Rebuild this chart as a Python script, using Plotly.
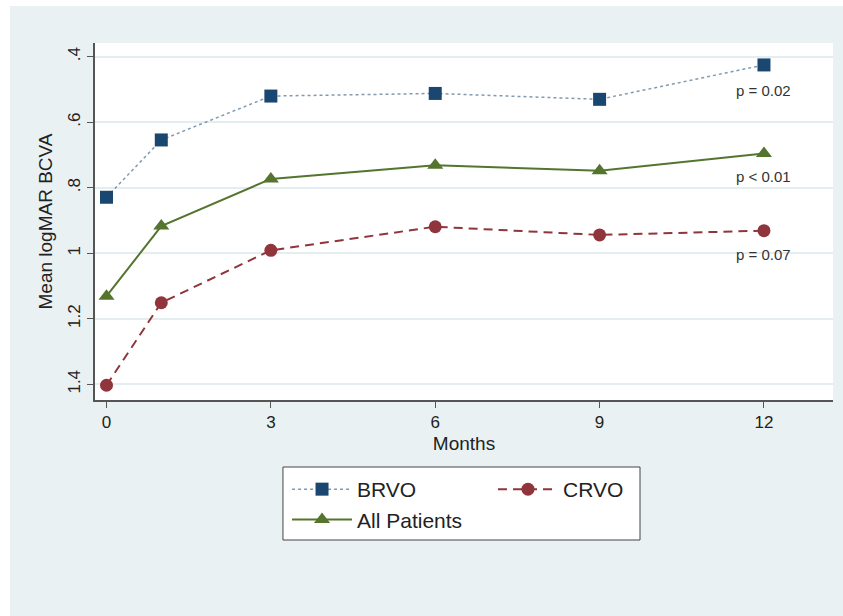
import plotly.graph_objects as go

# Follow-up visits (months) and mean logMAR BCVA per group
months = [0, 1, 3, 6, 9, 12]
brvo = [0.829, 0.654, 0.520, 0.512, 0.530, 0.425]
all_patients = [1.131, 0.917, 0.773, 0.731, 0.748, 0.695]
crvo = [1.403, 1.151, 0.991, 0.919, 0.944, 0.931]

x_ticks = [0, 3, 6, 9, 12]
y_ticks = [0.4, 0.6, 0.8, 1.0, 1.2, 1.4]
y_tick_text = [".4", ".6", ".8", "1", "1.2", "1.4"]

p_labels = ["p = 0.02", "p < 0.01", "p = 0.07"]
p_label_y = [0.502, 0.766, 1.005]

NAVY = "#1a476f"
MAROON = "#90353b"
GREEN = "#55752f"
BG = "#e9f1f3"
FONT = "Liberation Sans, Arial, sans-serif"

fig = go.Figure()

fig.add_trace(go.Scatter(
    x=months, y=brvo, name="BRVO", mode="lines+markers", legend="legend",
    line=dict(color="rgba(26,71,111,0.55)", width=1.5, dash="dot"),
    marker=dict(symbol="square", size=13, color=NAVY),
))
fig.add_trace(go.Scatter(
    x=months, y=crvo, name="CRVO", mode="lines+markers", legend="legend2",
    line=dict(color=MAROON, width=2, dash="9px,6px"),
    marker=dict(symbol="circle", size=13, color=MAROON),
))
fig.add_trace(go.Scatter(
    x=months, y=all_patients, name="All Patients", mode="lines+markers", legend="legend",
    line=dict(color=GREEN, width=2),
    marker=dict(symbol="triangle-up", size=14, color=GREEN),
))

for txt, yv in zip(p_labels, p_label_y):
    fig.add_annotation(
        x=12, y=yv, text=txt, showarrow=False,
        font=dict(family=FONT, size=15, color="#333333"),
        xanchor="center", yanchor="middle",
    )

# white strips along the top and left edges of the page
fig.add_shape(type="rect", xref="paper", yref="paper",
              x0=-0.2, x1=-0.1152, y0=-0.7, y1=1.2,
              fillcolor="white", line_width=0, layer="below")
fig.add_shape(type="rect", xref="paper", yref="paper",
              x0=-0.2, x1=1.1, y0=1.1036, y1=1.2,
              fillcolor="white", line_width=0, layer="below")
# frame holding both legend columns
fig.add_shape(type="rect", xref="paper", yref="paper",
              x0=0.2547, x1=0.7385, y0=-0.3922, y1=-0.1877,
              fillcolor="white", line=dict(color="#444444", width=1), layer="above")

legend_common = dict(
    orientation="v", xanchor="left", yanchor="top",
    bgcolor="rgba(0,0,0,0)", borderwidth=0,
    font=dict(family=FONT, size=21, color="#222222"),
    itemwidth=60, tracegroupgap=0,
)

fig.update_layout(
    width=843, height=616,
    margin=dict(l=95, r=10, t=43, b=216),
    paper_bgcolor=BG, plot_bgcolor="white",
    font=dict(family=FONT, color="#222222"),
    showlegend=True,
    legend=dict(x=0.2602, y=-0.1933, **legend_common),
    legend2=dict(x=0.5393, y=-0.1933, **legend_common),
)

fig.update_xaxes(
    range=[-0.21, 13.26], tickvals=x_ticks,
    ticks="outside", ticklen=6, tickcolor="#555555",
    showline=True, linecolor="#555555", linewidth=1.5,
    showgrid=False, zeroline=False,
    tickfont=dict(family=FONT, size=17, color="#222222"),
    title=dict(text="Months", font=dict(family=FONT, size=19, color="#222222"), standoff=6),
)
fig.update_yaxes(
    range=[1.448, 0.358], tickvals=y_ticks, ticktext=y_tick_text,
    tickangle=-90,
    ticks="outside", ticklen=6, tickcolor="#555555",
    showline=True, linecolor="#555555", linewidth=1.5,
    showgrid=True, gridcolor="#e4eef0", gridwidth=1.5,
    zeroline=False,
    tickfont=dict(family=FONT, size=17, color="#222222"),
    title=dict(text="Mean logMAR BCVA", font=dict(family=FONT, size=19, color="#222222"), standoff=8),
)

fig.write_html("out.html")
